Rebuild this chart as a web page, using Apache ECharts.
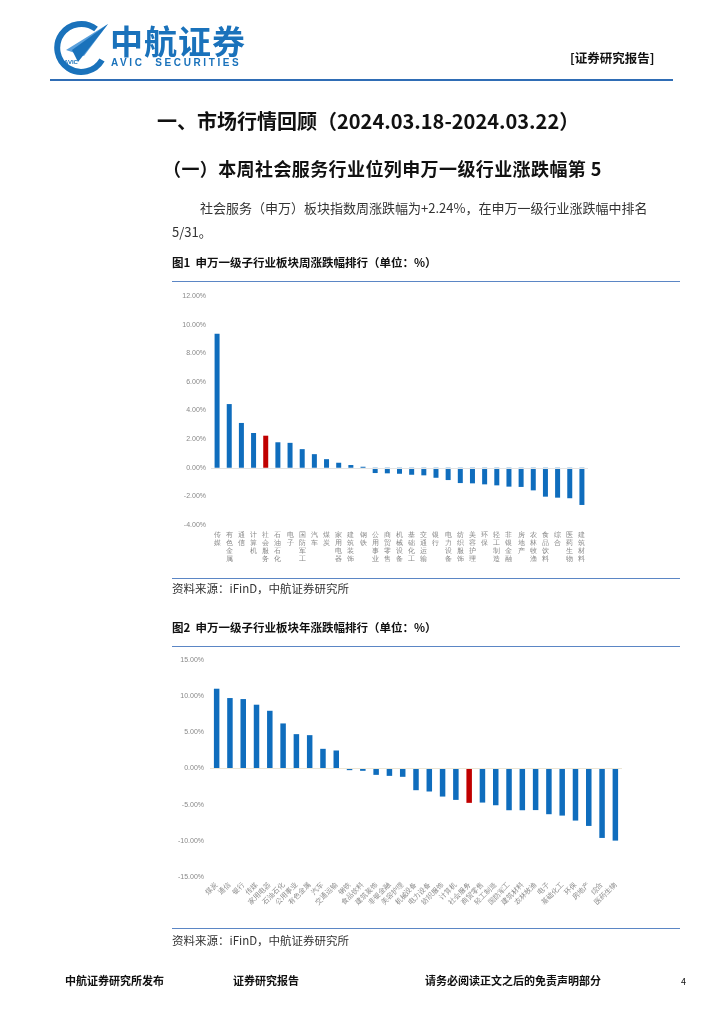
<!DOCTYPE html>
<html><head><meta charset="utf-8">
<script src="https://cdn.jsdelivr.net/npm/echarts@6/dist/echarts.min.js"></script>
<style>
body{margin:0;background:#fff;}
#page{position:relative;width:724px;height:1024px;overflow:hidden;font-family:"Noto Sans CJK SC","Noto Sans",sans-serif;color:#111;}
#chart{position:absolute;left:0;top:0;width:724px;height:1024px;}
.t{position:absolute;white-space:nowrap;}
.ln{position:absolute;height:1px;background:#5b86c5;}
</style></head>
<body><div id="page">
<div id="chart"></div>
<svg class="t" style="left:52px;top:20px" width="60" height="55" viewBox="0 0 60 55">
  <path d="M44 9 A24 24 0 1 0 50 40" fill="none" stroke="#1a72bb" stroke-width="6"/>
  <polygon points="14,30 56,4 32,36" fill="#5aa0dc"/>
  <polygon points="20,30 56,4 26,42" fill="#1a72bb"/>
  <text x="12" y="44" font-size="6" fill="#1a72bb" font-family="Liberation Sans" font-weight="bold">AVIC</text>
</svg>
<div class="t" style="left:110px;top:22px;font-size:33px;line-height:36px;font-weight:bold;color:#1a72bb;letter-spacing:1px">中航证券</div>
<div class="t" style="left:111px;top:57px;font-size:10px;line-height:12px;font-weight:bold;color:#1a72bb;font-family:'Liberation Sans';letter-spacing:2.6px">AVIC&nbsp;&nbsp;SECURITIES</div>
<div class="t" style="left:570px;top:51px;font-size:12.5px;line-height:14px;font-weight:bold;">[证券研究报告]</div>
<div class="t" style="left:50px;top:79px;width:623px;height:2px;background:#2f6db5"></div>

<div class="t" style="left:157px;top:109px;font-size:20px;line-height:24px;font-weight:bold;">一、市场行情回顾（2024.03.18-2024.03.22）</div>
<div class="t" style="left:163px;top:157px;font-size:18px;line-height:22px;font-weight:bold;letter-spacing:0.4px">（一）本周社会服务行业位列申万一级行业涨跌幅第 5</div>
<div class="t" style="left:200px;top:200px;font-size:13px;line-height:16px;color:#333">社会服务（申万）板块指数周涨跌幅为+2.24%，在申万一级行业涨跌幅中排名</div>
<div class="t" style="left:172px;top:224px;font-size:13px;line-height:16px;color:#333">5/31。</div>

<div class="t" style="left:172px;top:255px;font-size:11.5px;line-height:14px;font-weight:bold;">图1&nbsp;&nbsp;申万一级子行业板块周涨跌幅排行（单位：%）</div>
<div class="ln" style="left:172px;top:281px;width:508px"></div>
<div class="ln" style="left:172px;top:578px;width:508px"></div>
<div class="t" style="left:172px;top:581px;font-size:11.5px;line-height:14px;color:#333">资料来源：iFinD，中航证券研究所</div>

<div class="t" style="left:172px;top:620px;font-size:11.5px;line-height:14px;font-weight:bold;">图2&nbsp;&nbsp;申万一级子行业板块年涨跌幅排行（单位：%）</div>
<div class="ln" style="left:172px;top:646px;width:508px"></div>
<div class="ln" style="left:172px;top:928px;width:508px"></div>
<div class="t" style="left:172px;top:933px;font-size:11.5px;line-height:14px;color:#333">资料来源：iFinD，中航证券研究所</div>

<div class="t" style="left:65px;top:973px;font-size:11px;line-height:14px;font-weight:bold;">中航证券研究所发布</div>
<div class="t" style="left:233px;top:973px;font-size:11px;line-height:14px;font-weight:bold;">证券研究报告</div>
<div class="t" style="left:425px;top:973px;font-size:11px;line-height:14px;font-weight:bold;">请务必阅读正文之后的免责声明部分</div>
<div class="t" style="left:681px;top:976px;font-size:9px;line-height:12px;">4</div>
</div>
<script>
// Chart 1: weekly change (%)
const weekCategories = ['传媒','有色金属','通信','计算机','社会服务','石油石化','电子','国防军工','汽车','煤炭','家用电器','建筑装饰','钢铁','公用事业','商贸零售','机械设备','基础化工','交通运输','银行','电力设备','纺织服饰','美容护理','环保','轻工制造','非银金融','房地产','农林牧渔','食品饮料','综合','医药生物','建筑材料'];
const weekValues = [9.36,4.45,3.13,2.43,2.24,1.78,1.74,1.30,0.95,0.60,0.35,0.19,0.07,-0.37,-0.39,-0.42,-0.49,-0.53,-0.70,-0.86,-1.07,-1.09,-1.16,-1.23,-1.32,-1.34,-1.58,-2.02,-2.09,-2.13,-2.60];
const weekTicks = {min:-4, max:12, interval:2};

// Chart 2: year-to-date change (%)
const yearCategories = ['煤炭','通信','银行','传媒','家用电器','石油石化','公用事业','有色金属','汽车','交通运输','钢铁','食品饮料','建筑装饰','非银金融','美容护理','机械设备','电力设备','纺织服饰','计算机','社会服务','商贸零售','轻工制造','国防军工','建筑材料','农林牧渔','电子','基础化工','环保','房地产','综合','医药生物'];
const yearValues = [11.03,9.74,9.60,8.82,7.98,6.23,4.75,4.61,2.72,2.49,-0.23,-0.32,-0.88,-1.02,-1.15,-3.00,-3.18,-3.88,-4.34,-4.75,-4.71,-5.08,-5.77,-5.77,-5.75,-6.32,-6.51,-7.20,-7.94,-9.60,-9.97];
const yearTicks = {min:-15, max:15, interval:5};

const highlight = '社会服务';
const BLUE = '#0f6dbd', RED = '#c00000';

function barData(cats, vals){
  return vals.map((v,i)=>({value:v,itemStyle:{color:cats[i]===highlight?RED:BLUE}}));
}
const pct = v => v.toFixed(2) + '%';
const ch = echarts.init(document.getElementById('chart'), null, {renderer:'canvas'});
ch.setOption({
  animation:false,
  grid:[
    {left:211, top:296, width:377, height:229},
    {left:210, top:660, width:412, height:217}
  ],
  xAxis:[
    {type:'category', gridIndex:0, data:weekCategories,
     axisLine:{show:false}, axisTick:{show:false},
     axisLabel:{interval:0, fontSize:7, lineHeight:8, color:'#888', margin:6,
       formatter:v=>v.split('').join('\n')}},
    {type:'category', gridIndex:1, data:yearCategories,
     axisLine:{show:false}, axisTick:{show:false},
     axisLabel:{interval:0, rotate:45, fontSize:7, color:'#888', margin:7}}
  ],
  yAxis:[
    {type:'value', gridIndex:0, min:weekTicks.min, max:weekTicks.max, interval:weekTicks.interval,
     splitLine:{show:false}, axisLine:{show:false},
     axisLabel:{fontSize:7, color:'#888', margin:5, formatter:pct}},
    {type:'value', gridIndex:1, min:yearTicks.min, max:yearTicks.max, interval:yearTicks.interval,
     splitLine:{show:false}, axisLine:{show:false},
     axisLabel:{fontSize:7, color:'#888', margin:6, formatter:pct}}
  ],
  series:[
    {type:'bar', xAxisIndex:0, yAxisIndex:0, barWidth:5, data:barData(weekCategories, weekValues),
     markLine:{silent:true, symbol:'none', label:{show:false}, lineStyle:{color:'#e3e3e3', type:'solid', width:1}, data:[{yAxis:0}]}},
    {type:'bar', xAxisIndex:1, yAxisIndex:1, barWidth:5.5, data:barData(yearCategories, yearValues),
     markLine:{silent:true, symbol:'none', label:{show:false}, lineStyle:{color:'#ece6d6', type:'solid', width:1}, data:[{yAxis:0}]}}
  ]
});
</script>
</body></html>
